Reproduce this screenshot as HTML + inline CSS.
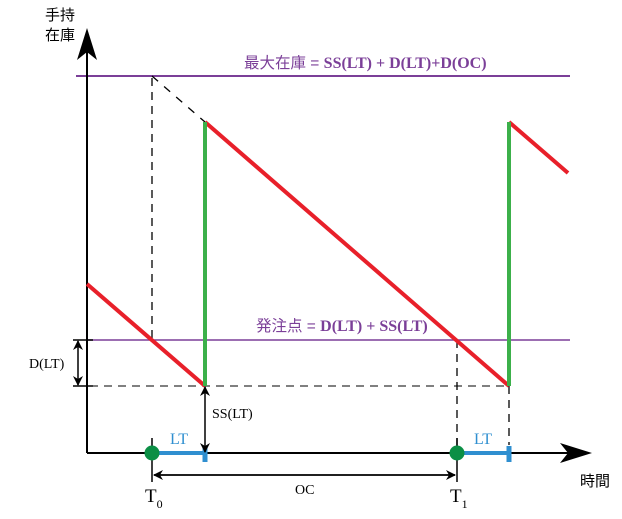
<!DOCTYPE html><html><head><style>body{margin:0;background:#fff}</style></head><body>
<svg width="622" height="514" xmlns="http://www.w3.org/2000/svg" font-family="Liberation Serif, serif">
<defs><marker id="a" markerWidth="10" markerHeight="10" refX="9" refY="5" orient="auto" markerUnits="userSpaceOnUse"><path d="M0,0 L10,5 L0,10 L3,5z" fill="#000"/></marker></defs>
<line x1="76" y1="76" x2="570" y2="76" stroke="#7b3f98" stroke-width="2"/>
<line x1="87" y1="340" x2="570" y2="340" stroke="#7b3f98" stroke-width="1.5"/>
<line x1="76" y1="386" x2="505" y2="386" stroke="#000" stroke-dasharray="8,6"/>
<path d="M152,76 L205,122" stroke="#000" stroke-dasharray="8,8" stroke-width="1.3"/>
<path d="M152,78 V340 M457,340 V453 M509,386 V445" stroke="#000" stroke-dasharray="8,6" stroke-width="1.3"/>
<line x1="87" y1="453" x2="87" y2="50" stroke="#000" stroke-width="2"/>
<path d="M87,28 L97,60 L87,52 L77,60z" fill="#000"/>
<line x1="87" y1="453" x2="570" y2="453" stroke="#000" stroke-width="2"/>
<path d="M592,453 L560,443 L568,453 L560,463z" fill="#000"/>
<path d="M87,284 L205,386 M205,122 L509,386 M509,122 L568,173" stroke="#e8202a" stroke-width="4"/>
<path d="M205,122 V386 M509,122 V386" stroke="#3cb04a" stroke-width="4"/>
<path d="M152,453 H205 M457,453 H509" stroke="#2f8fd0" stroke-width="4"/>
<path d="M205,446 V462 M509,446 V462" stroke="#2f8fd0" stroke-width="5"/>
<path d="M152,438 V482 M457,438 V482" stroke="#000" stroke-width="1.5"/>
<circle cx="152" cy="453" r="7.5" fill="#0b8f45"/><circle cx="457" cy="453" r="7.5" fill="#0b8f45"/>
<line x1="154" y1="475" x2="455" y2="475" stroke="#000" stroke-width="1.5" marker-end="url(#a)"/>
<line x1="455" y1="475" x2="154" y2="475" stroke="#000" stroke-width="1.5" marker-end="url(#a)"/>
<path d="M73,340 H93 M73,386 H93" stroke="#000" stroke-width="1.5"/>
<line x1="78" y1="363" x2="78" y2="341" stroke="#000" stroke-width="1.5" marker-end="url(#a)"/>
<line x1="78" y1="363" x2="78" y2="385" stroke="#000" stroke-width="1.5" marker-end="url(#a)"/>
<line x1="205" y1="420" x2="205" y2="387" stroke="#000" stroke-width="1.5" marker-end="url(#a)"/>
<line x1="205" y1="420" x2="205" y2="452" stroke="#000" stroke-width="1.5" marker-end="url(#a)"/>
<g font-family="Liberation Sans, Noto Sans CJK JP, sans-serif" font-size="15">
<text x="45" y="20">手持</text><text x="45" y="40">在庫</text>
<text x="580" y="486">時間</text>
<text x="244" y="68" fill="#7b3f98" font-size="15.5">最大在庫 = <tspan font-family="Liberation Serif, serif" font-weight="bold" font-size="16">SS(LT) + D(LT)+D(OC)</tspan></text>
<text x="256" y="331" fill="#7b3f98" font-size="15.5">発注点 = <tspan font-family="Liberation Serif, serif" font-weight="bold" font-size="16">D(LT) + SS(LT)</tspan></text>
</g>
<text x="29" y="368" font-size="14">D(LT)</text>
<text x="212" y="418" font-size="14">SS(LT)</text>
<text x="170" y="444" font-size="16" fill="#2f8fd0">LT</text>
<text x="474" y="444" font-size="16" fill="#2f8fd0">LT</text>
<text x="295" y="494" font-size="14">OC</text>
<text x="145" y="502" font-size="19">T<tspan font-size="12" dy="6">0</tspan></text>
<text x="450" y="502" font-size="19">T<tspan font-size="12" dy="6">1</tspan></text>
</svg></body></html>
